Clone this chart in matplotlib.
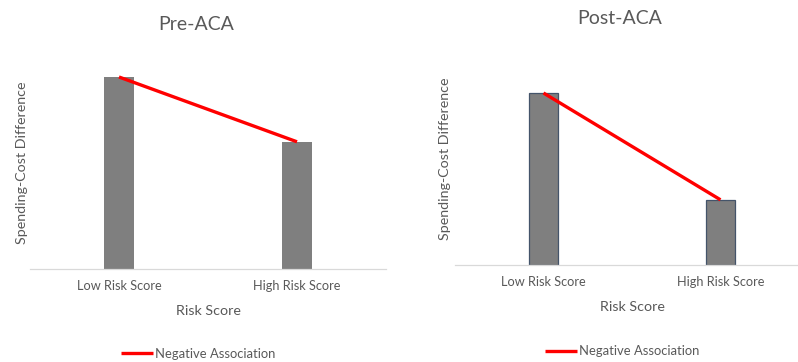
import matplotlib
matplotlib.use("Agg")
import matplotlib.pyplot as plt

# ---- data (relative heights; no y scale shown) ----
categories = ["Low Risk Score", "High Risk Score"]
pre_values = [4.80, 3.18]
post_values = [4.30, 1.63]
line_label = "Negative Association"

GRAY = "#7f7f7f"
TEXT = "#595959"
RED = "#ff0000"

plt.rcParams["font.family"] = ["Lato", "DejaVu Sans"]

fig = plt.figure(figsize=(7.98, 3.62), dpi=100)

panels = [
    # title, values, axes rect, ylim top, bar edge, title pos, ylabel pos, xlabel pos, legend pos
    ("Pre-ACA", pre_values, [30 / 798, 93 / 362, 356 / 798, 209 / 362], 5.225,
     "none", (0.466, 1.17), (-0.006, 0.51), (0.5, -0.172), (0.472, -0.405), (-0.5, 1.5)),
    ("Post-ACA", post_values, [455 / 798, 97 / 362, 343 / 798, 205 / 362], 5.125,
     "#44546a", (0.481, 1.20), (-0.012, 0.52), (0.516, -0.176), (0.487, -0.42), (-0.5, 1.438)),
]

for title, vals, rect, ytop, edge, tpos, ylpos, xlpos, lgpos, xlim in panels:
    ax = fig.add_axes(rect)
    x = range(len(categories))
    ax.bar(x, vals, width=0.163, color=GRAY, edgecolor=edge, linewidth=0.9, zorder=2)
    ax.plot(x, vals, color=RED, lw=2.4, solid_capstyle="butt", zorder=3, label=line_label)

    ax.set_xlim(*xlim)
    ax.set_ylim(0, ytop)
    ax.set_xticks(list(x))
    ax.set_xticklabels(categories, fontsize=9.2, color=TEXT)
    ax.tick_params(axis="x", length=0, pad=8)
    ax.set_yticks([])
    for side in ("top", "right", "left"):
        ax.spines[side].set_visible(False)
    ax.spines["bottom"].set_color("#d9d9d9")
    ax.spines["bottom"].set_linewidth(0.9)

    ax.text(tpos[0], tpos[1], title, transform=ax.transAxes, ha="center", va="center",
            fontsize=14, color=TEXT)
    ax.set_ylabel("Spending-Cost Difference", fontsize=10.3, color=TEXT)
    ax.yaxis.set_label_coords(*ylpos)
    ax.set_xlabel("Risk Score", fontsize=10.3, color=TEXT)
    ax.xaxis.set_label_coords(*xlpos)

    leg = ax.legend(loc="center", bbox_to_anchor=lgpos, frameon=False, fontsize=9.4,
                    handlelength=2.5, handletextpad=0.15, borderaxespad=0)
    for t in leg.get_texts():
        t.set_color(TEXT)

fig.savefig("out.png", dpi=100)
